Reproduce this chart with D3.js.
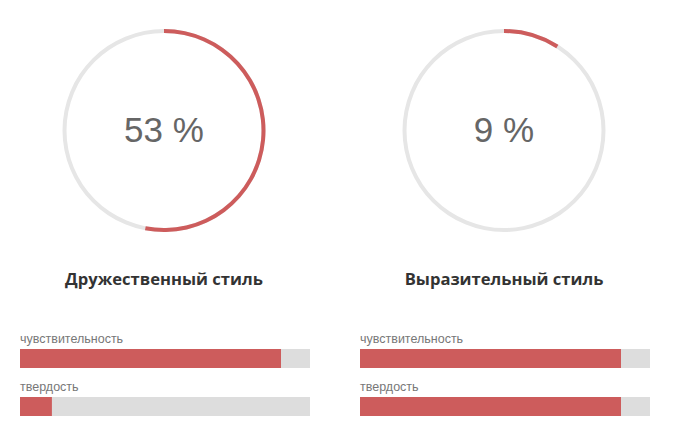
<!DOCTYPE html>
<html><head><meta charset="utf-8">
<script src="https://cdn.jsdelivr.net/npm/d3@7"></script>
<style>
html,body{margin:0;padding:0;background:#fff;}
svg{display:block;}
</style>
</head><body>
<svg id="chart" width="678" height="428"></svg>
<script>
const styles = ["Дружественный стиль", "Выразительный стиль"];
const percents = [53, 9];
const traits = ["чувствительность", "твердость"];
const traitValues = [[90, 11], [90, 90]];

const svg = d3.select("#chart");
const red = "#cd5c5c";
const colX = d3.scaleOrdinal().domain(styles).range([164, 504]);
const angle = d3.scaleLinear().domain([0, 100]).range([0, 2 * Math.PI]);
const radius = 99.5, thick = 4;
const arc = d3.arc().innerRadius(radius - thick / 2).outerRadius(radius + thick / 2);
const barX = d3.scaleLinear().domain([0, 100]).range([0, 290]);
const rowY = d3.scaleBand().domain(traits).range([329, 425]).paddingInner(0);

styles.forEach((s, i) => {
  const cx = colX(s);
  const g = svg.append("g").attr("transform", `translate(${cx},130.5)`);
  g.append("path").attr("d", arc({startAngle: 0, endAngle: 2 * Math.PI})).attr("fill", "#e6e6e6");
  g.append("path").attr("d", arc({startAngle: 0, endAngle: angle(percents[i])})).attr("fill", red);
  g.append("text").attr("text-anchor", "middle").attr("y", 11.5)
    .attr("font-family", "'Liberation Sans', Arial, sans-serif").attr("font-size", 35).attr("fill", "#666")
    .text(percents[i] + " %");
  svg.append("text").attr("x", cx).attr("y", 285).attr("text-anchor", "middle")
    .attr("font-family", "'Open Sans', sans-serif").attr("font-weight", "bold").attr("font-size", 16.6)
    .attr("fill", "#333").text(s);

  const bx = cx - 144;
  traits.forEach((t, j) => {
    const y0 = rowY(t);
    svg.append("text").attr("x", bx).attr("y", y0 + 14)
      .attr("font-family", "'Liberation Sans', Arial, sans-serif").attr("font-size", 12.5)
      .attr("fill", "#777").text(t);
    svg.append("rect").attr("x", bx).attr("y", y0 + 20).attr("width", barX(100)).attr("height", 19).attr("fill", "#dddddd");
    svg.append("rect").attr("x", bx).attr("y", y0 + 20).attr("width", barX(traitValues[i][j])).attr("height", 19).attr("fill", red);
  });
});
</script>
</body></html>
